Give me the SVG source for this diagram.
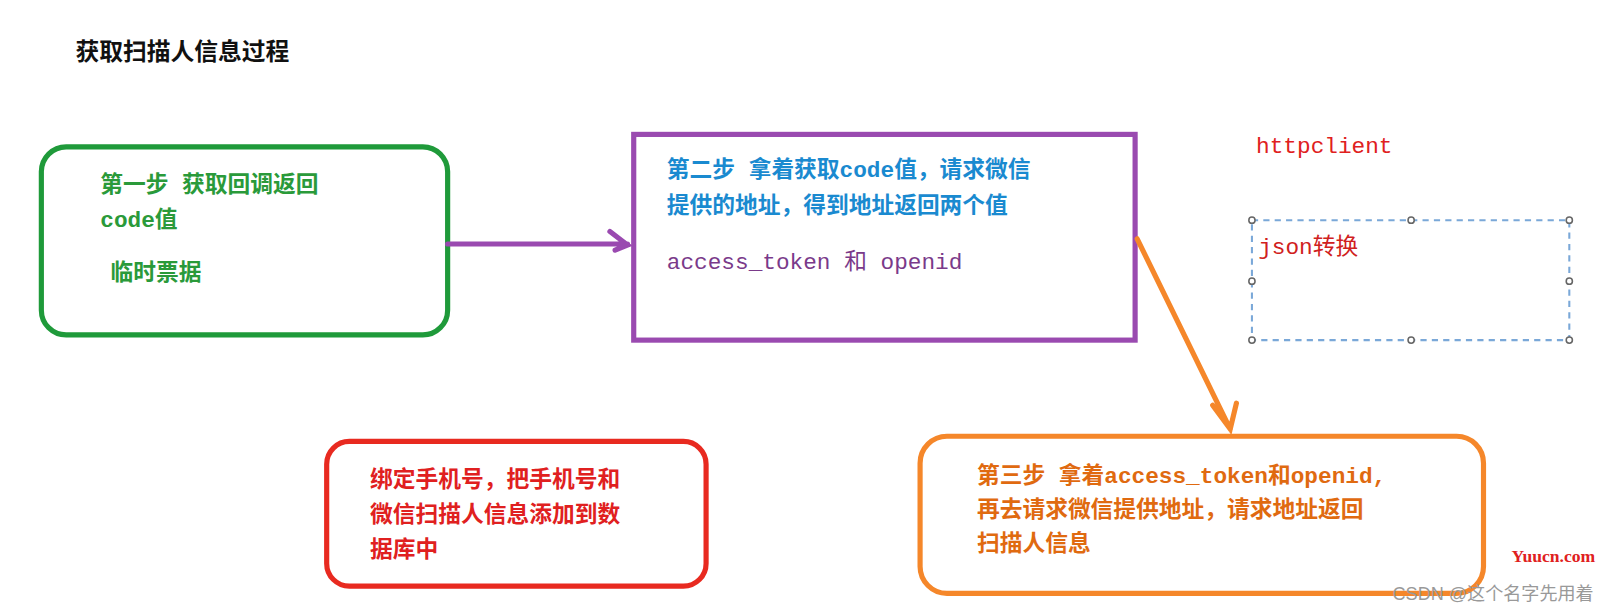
<svg xmlns="http://www.w3.org/2000/svg" width="1621" height="611" viewBox="0 0 1621 611">
<style>
text{font-family:"Liberation Mono","Noto Sans CJK SC",monospace;font-weight:bold;font-size:22px}
.g{fill:#2a9a3a}.b{fill:#1a8ad0}.p{fill:#7a3a8a}.r{fill:#e02020}.o{fill:#e06a10}
.n{font-weight:normal}
.h{fill:#fff;stroke:#666;stroke-width:1.5}
</style>
<rect width="1621" height="611" fill="#fff"/>
<g transform="scale(1.0338)">
<text x="73" y="58" fill="#111" style="font-size:23px">获取扫描人信息过程</text>
<g id="n1"><rect x="40" y="142" width="393" height="182" rx="24" fill="none" stroke="#1f9a3a" stroke-width="5"/>
<text class="g" x="97" y="186">第一步 获取回调返回</text><text class="g" x="97" y="220">code值</text><text class="g" x="107" y="271">临时票据</text></g>
<g id="n2"><rect x="613" y="130" width="485" height="199" fill="none" stroke="#9a4ab0" stroke-width="5"/>
<text class="b" x="645" y="171">第二步 拿着获取code值，请求微信</text><text class="b" x="645" y="206">提供的地址，得到地址返回两个值</text>
<text class="p n" x="645" y="260">access_token 和 openid</text></g>
<g id="n3"><rect x="890" y="422" width="545" height="152" rx="26" fill="none" stroke="#f5872a" stroke-width="5"/>
<text class="o" x="945" y="467">第三步 拿着access_token和openid,</text><text class="o" x="945" y="500">再去请求微信提供地址，请求地址返回</text><text class="o" x="945" y="533">扫描人信息</text></g>
<g id="n4"><rect x="316" y="427" width="367" height="140" rx="22" fill="none" stroke="#e82a20" stroke-width="5"/>
<text class="r" x="358" y="471">绑定手机号，把手机号和</text><text class="r" x="358" y="505">微信扫描人信息添加到数</text><text class="r" x="358" y="539">据库中</text></g>
<g id="n5"><text class="n" x="1215" y="148" fill="#e02020">httpclient</text>
<rect x="1211" y="213" width="307" height="116" fill="none" stroke="#7aa8d8" stroke-width="2" stroke-dasharray="6 5"/>
<circle class="h" cx="1211" cy="213" r="3"/><circle class="h" cx="1365" cy="213" r="3"/><circle class="h" cx="1518" cy="213" r="3"/>
<circle class="h" cx="1211" cy="272" r="3"/><circle class="h" cx="1518" cy="272" r="3"/>
<circle class="h" cx="1211" cy="329" r="3"/><circle class="h" cx="1365" cy="329" r="3"/><circle class="h" cx="1518" cy="329" r="3"/>
<text class="n" x="1217" y="246" fill="#d02020">json转换</text></g>
<g id="connectors" fill="none" stroke-width="5" stroke-linecap="round">
<path d="M433 236 H607 M590 224 L607 237 L595 242" stroke="#9a4ab0"/>
<path d="M1100 231 L1190 415 M1173 392 L1190 415 L1196 390" stroke="#f5872a"/>
</g>
<text x="1462" y="544" fill="#e02020" style="font-family:'Liberation Serif',serif;font-size:17px;font-weight:bold">Yuucn.com</text>
<text x="1347" y="580" fill="#999" style="font-family:'Liberation Sans','Noto Sans CJK SC',sans-serif;font-weight:normal;font-size:17.5px">CSDN @这个名字先用着</text>
</g>
</svg>
